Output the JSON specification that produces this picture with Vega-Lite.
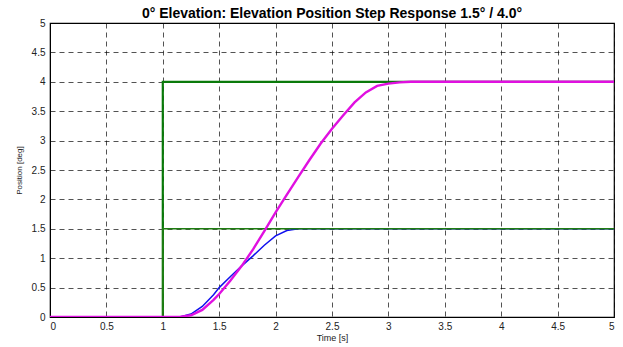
{
  "$schema": "https://vega.github.io/schema/vega-lite/v6.json",
  "width": 564,
  "height": 294,
  "autosize": "none",
  "padding": {"left": 50, "top": 23, "right": 9, "bottom": 30},
  "background": "white",
  "config": {
    "view": {"stroke": "black", "strokeWidth": 1.2},
    "font": "Liberation Sans",
    "axis": {
      "labelFont": "Liberation Sans",
      "titleFont": "Liberation Sans",
      "labelFontSize": 10,
      "labelColor": "#222",
      "titleFontWeight": "normal",
      "titleColor": "#222",
      "domainColor": "black",
      "ticks": false,
      "grid": true,
      "gridColor": "black",
      "gridDash": [5, 4],
      "gridWidth": 0.8,
      "gridOpacity": 0.85,
      "format": "~g"
    }
  },
  "title": {
    "text": "0° Elevation: Elevation Position Step Response 1.5° / 4.0°",
    "font": "Liberation Sans",
    "fontSize": 14,
    "fontWeight": "bold",
    "color": "black",
    "offset": -3
  },
  "datasets": {
    "cmd4": [
      {"i": 0, "t": 0, "v": 0},
      {"i": 1, "t": 1, "v": 0},
      {"i": 2, "t": 1, "v": 4},
      {"i": 3, "t": 5, "v": 4}
    ],
    "cmd15": [
      {"i": 0, "t": 0, "v": 0},
      {"i": 1, "t": 1, "v": 0},
      {"i": 2, "t": 1, "v": 1.5},
      {"i": 3, "t": 5, "v": 1.5}
    ],
    "resp15": [
      {"i": 0, "t": 0, "v": 0},
      {"i": 1, "t": 1.15, "v": 0},
      {"i": 2, "t": 1.25, "v": 0.05},
      {"i": 3, "t": 1.35, "v": 0.18},
      {"i": 4, "t": 1.45, "v": 0.38},
      {"i": 5, "t": 1.5, "v": 0.5},
      {"i": 6, "t": 1.6, "v": 0.69},
      {"i": 7, "t": 1.7, "v": 0.87},
      {"i": 8, "t": 1.8, "v": 1.04},
      {"i": 9, "t": 1.9, "v": 1.22},
      {"i": 10, "t": 2.0, "v": 1.38},
      {"i": 11, "t": 2.1, "v": 1.47},
      {"i": 12, "t": 2.2, "v": 1.5},
      {"i": 13, "t": 5, "v": 1.5}
    ],
    "resp4": [
      {"i": 0, "t": 0, "v": 0},
      {"i": 1, "t": 1.15, "v": 0},
      {"i": 2, "t": 1.25, "v": 0.03},
      {"i": 3, "t": 1.35, "v": 0.12},
      {"i": 4, "t": 1.45, "v": 0.29},
      {"i": 5, "t": 1.5, "v": 0.39},
      {"i": 6, "t": 1.6, "v": 0.62},
      {"i": 7, "t": 1.7, "v": 0.87},
      {"i": 8, "t": 1.8, "v": 1.15},
      {"i": 9, "t": 1.9, "v": 1.46},
      {"i": 10, "t": 2.0, "v": 1.78},
      {"i": 11, "t": 2.1, "v": 2.08},
      {"i": 12, "t": 2.2, "v": 2.38},
      {"i": 13, "t": 2.3, "v": 2.67},
      {"i": 14, "t": 2.4, "v": 2.95},
      {"i": 15, "t": 2.5, "v": 3.2},
      {"i": 16, "t": 2.6, "v": 3.43},
      {"i": 17, "t": 2.7, "v": 3.65},
      {"i": 18, "t": 2.8, "v": 3.82},
      {"i": 19, "t": 2.9, "v": 3.93},
      {"i": 20, "t": 3.0, "v": 3.97},
      {"i": 21, "t": 3.1, "v": 3.99},
      {"i": 22, "t": 3.2, "v": 4.0},
      {"i": 23, "t": 5, "v": 4.0}
    ]
  },
  "encoding": {
    "x": {
      "field": "t", "type": "quantitative",
      "scale": {"domain": [0, 5], "nice": false, "zero": false},
      "axis": {"values": [0, 0.5, 1, 1.5, 2, 2.5, 3, 3.5, 4, 4.5, 5], "title": "Time [s]", "titleFontSize": 9, "titlePadding": 2, "labelPadding": 4}
    },
    "y": {
      "field": "v", "type": "quantitative",
      "scale": {"domain": [0, 5], "nice": false},
      "axis": {"values": [0, 0.5, 1, 1.5, 2, 2.5, 3, 3.5, 4, 4.5, 5], "title": "Position [deg]", "titleFontSize": 8, "titlePadding": 8, "labelPadding": 5}
    },
    "order": {"field": "i", "type": "quantitative"}
  },
  "layer": [
    {"data": {"name": "cmd4"}, "mark": {"type": "line", "clip": true, "color": "#0a7a0a", "strokeWidth": 2.2}},
    {"data": {"name": "resp15"}, "mark": {"type": "line", "clip": true, "color": "#1010ee", "strokeWidth": 1.5}},
    {"data": {"name": "cmd15"}, "mark": {"type": "line", "clip": true, "color": "#1f7d12", "strokeWidth": 1.6}},
    {"data": {"name": "resp4"}, "mark": {"type": "line", "clip": true, "color": "#e010e0", "strokeWidth": 2.4}}
  ]
}
